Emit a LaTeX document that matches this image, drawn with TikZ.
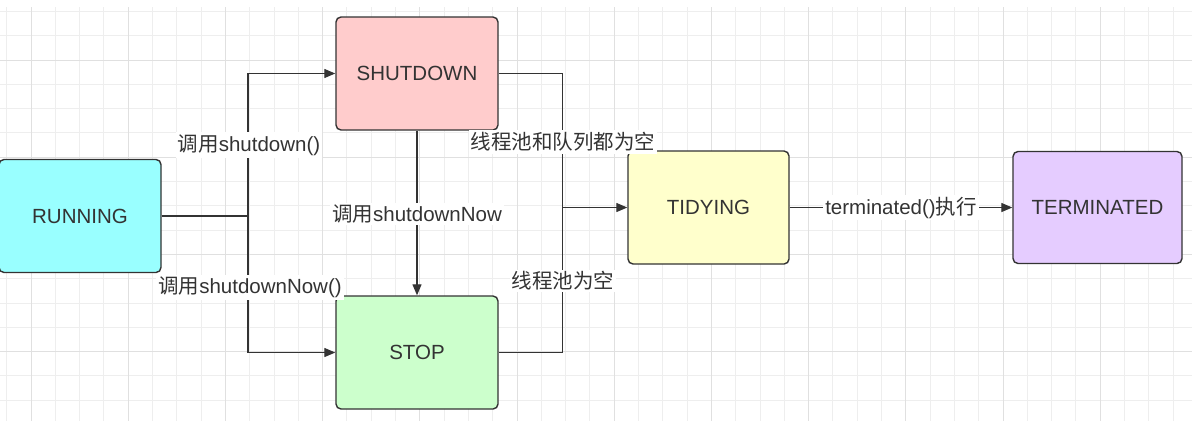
\documentclass[tikz,border=0pt]{standalone}
\usepackage{fontspec}
\setmainfont{Liberation Sans}
\newfontfamily\cjk{Noto Sans CJK SC}
\usetikzlibrary{arrows.meta,positioning}
\definecolor{ink}{RGB}{51,51,51}
\definecolor{gridminor}{RGB}{238,238,238}
\definecolor{gridmajor}{RGB}{224,224,224}
\definecolor{runfill}{RGB}{153,255,255}
\definecolor{shutfill}{RGB}{255,204,204}
\definecolor{stopfill}{RGB}{204,255,204}
\definecolor{tidyfill}{RGB}{255,255,204}
\definecolor{termfill}{RGB}{229,204,255}

\begin{document}
\begin{tikzpicture}[x=1pt,y=-1pt,
    state/.style={draw=ink,line width=1.4pt,rounded corners=5pt,
      minimum width=162pt,minimum height=113pt,text=ink,
      font=\fontsize{20.5}{24}\selectfont},
    conn/.style={draw=ink,line width=1.3pt},
    arr/.style={conn,-{Triangle[length=11pt,width=9pt]}},
    lbl/.style={fill=white,text=ink,inner sep=2pt,
      font=\fontsize{20.5}{24}\selectfont}]
  \useasboundingbox (0,0) rectangle (1201,421);
  \fill[white] (0,0) rectangle (1201,421);
  % background grid
  \foreach \i in {-1,...,47}
    \draw[gridminor,line width=1pt] ({31+24.3*\i},7) -- ({31+24.3*\i},421);
  \foreach \j in {-2,...,14}
    \draw[gridminor,line width=1pt] (0,{60+24.3*\j}) -- (1192,{60+24.3*\j});
  \foreach \i in {0,4,...,44}
    \draw[gridmajor,line width=1pt] ({31+24.3*\i},7) -- ({31+24.3*\i},421);
  \foreach \j in {0,4,...,12}
    \draw[gridmajor,line width=1pt] (0,{60+24.3*\j}) -- (1192,{60+24.3*\j});

  % states
  \node[state,fill=runfill] (running) at (80,216) {RUNNING};
  \node[state,fill=shutfill] (shutdown) at (417,73.5) {SHUTDOWN};
  \node[state,fill=stopfill] (stop) at (417,352.5) {STOP};
  \node[state,fill=tidyfill,minimum width=161pt] (tidying) at (708.5,207.5) {TIDYING};
  \node[state,fill=termfill,minimum width=169pt,minimum height=112pt] (terminated) at (1097.5,207.5) {TERMINATED};

  % transitions
  \coordinate (fork) at (248,216);
  \path (tidying.west) ++(-65,0) coordinate (join);
  \draw[conn] (running.east) -- (fork);
  \draw[arr] (fork) |- (shutdown.west);
  \draw[arr] (fork) |- (stop.west);
  \draw[arr] (shutdown.south) -- (stop.north);
  \draw[conn] (shutdown.east) -| (join);
  \draw[conn] (stop.east) -| (join);
  \draw[arr] (join) -- (tidying.west);
  \draw[arr] (tidying.east) -- node[lbl] (lblterm) {terminated(){\cjk 执行}} (terminated.west);

  % labels
  \node[lbl] (lblshut) at (249,145) {{\cjk 调用}shutdown()};
  \node[lbl] (lblnow) at (250,287) {{\cjk 调用}shutdownNow()};
  \node[lbl] (lbldown) at (417,214) {{\cjk 调用}shutdownNow};
  \node[lbl] (lblqueue) at (563,142) {\cjk 线程池和队列都为空};
  \node[lbl] (lblpool) at (563,281) {\cjk 线程池为空};
\end{tikzpicture}
\end{document}
